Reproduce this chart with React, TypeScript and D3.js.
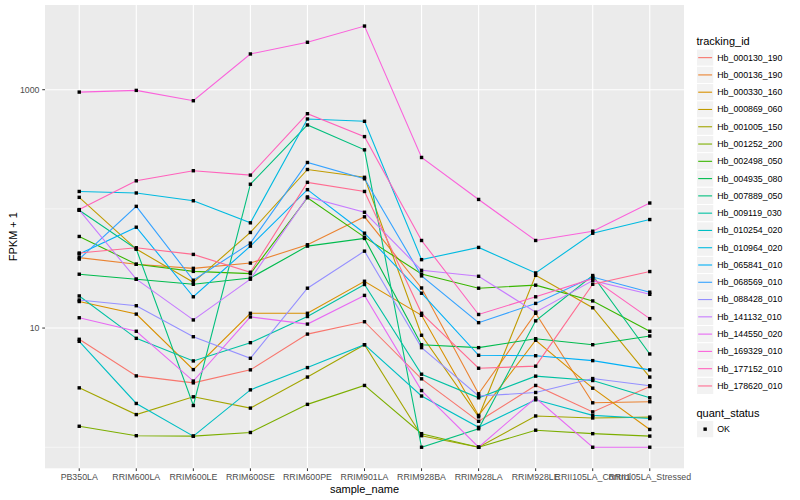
import * as d3 from "d3";

const categories = ["PB350LA", "RRIM600LA", "RRIM600LE", "RRIM600SE", "RRIM600PE", "RRIM901LA", "RRIM928BA", "RRIM928LA", "RRIM928LE", "RRII105LA_Control", "RRII105LA_Stressed"];

const hb000130_190 = [8.05, 3.97, 3.47, 4.46, 8.9, 11.3, 3.75, 1.65, 3.3, 1.98, 3.23];
const hb000136_190 = [39, 34.3, 31.7, 35.1, 50, 85.8, 21.7, 2.81, 13.3, 2.36, 2.41];
const hb000330_160 = [16.7, 13.1, 4.48, 13.3, 13.3, 24.7, 12.8, 1.85, 7.9, 3.13, 1.41];
const hb000869_060 = [125, 46, 24.2, 63.4, 214, 184, 8.7, 1.8, 27.7, 14.8, 3.88];
const hb001005_150 = [3.15, 1.88, 2.65, 2.13, 3.88, 7.25, 1.25, 1, 1.83, 1.76, 1.79];
const hb001252_200 = [1.5, 1.25, 1.24, 1.33, 2.29, 3.3, 1.3, 1, 1.39, 1.3, 1.24];
const hb002498_050 = [58.7, 34.3, 29.9, 28.6, 124, 57.9, 28.4, 21.6, 22.9, 16.9, 9.4];
const hb004935_080 = [28.3, 25.7, 23.3, 26.3, 48.7, 56.5, 7.25, 6.85, 8.14, 7.25, 8.58];
const hb007889_050 = [97.3, 46, 2.24, 161, 506, 313, 1, 1.43, 11.5, 27.6, 6.06];
const hb009119_030 = [18.6, 8.2, 5.3, 7.54, 12.5, 23.2, 4.1, 2.6, 3.95, 3.63, 2.6];
const hb010254_020 = [7.74, 2.33, 1.24, 3.03, 4.66, 7.25, 2.69, 1.47, 2.5, 1.85, 1.74];
const hb010964_020 = [140, 136, 117, 76.4, 568, 543, 37.5, 47.5, 29, 62.5, 81.4];
const hb065841_010 = [41.8, 70.2, 18.3, 48.7, 145, 62.5, 19.6, 5.91, 5.86, 5.33, 4.46];
const hb068569_010 = [37.9, 105, 25.2, 51.6, 245, 179, 27.4, 11.1, 16.1, 26.8, 20];
const hb088428_010 = [17.2, 15.4, 8.46, 5.58, 21.6, 44.2, 6.85, 2.69, 2.88, 3.77, 3.28];
const hb141132_010 = [97.7, 25.7, 11.7, 25.7, 126, 93.7, 30.5, 27.2, 13.6, 25, 19.2];
const hb144550_020 = [12.2, 9.4, 3.59, 12.4, 10.8, 18.8, 2.99, 1, 2.59, 1, 1];
const hb169329_010 = [955, 987, 808, 1995, 2500, 3420, 270, 120, 54.3, 65, 112];
const hb177152_010 = [98.7, 172, 209, 192, 629, 404, 54.3, 13, 18.3, 26, 12];
const hb178620_010 = [42.6, 47.2, 41.5, 29.4, 167, 140, 13.3, 4.6, 4.79, 23.3, 29.8];

const trackingIds = ["Hb_000130_190", "Hb_000136_190", "Hb_000330_160", "Hb_000869_060", "Hb_001005_150", "Hb_001252_200", "Hb_002498_050", "Hb_004935_080", "Hb_007889_050", "Hb_009119_030", "Hb_010254_020", "Hb_010964_020", "Hb_065841_010", "Hb_068569_010", "Hb_088428_010", "Hb_141132_010", "Hb_144550_020", "Hb_169329_010", "Hb_177152_010", "Hb_178620_010"];
const seriesValues = [hb000130_190, hb000136_190, hb000330_160, hb000869_060, hb001005_150, hb001252_200, hb002498_050, hb004935_080, hb007889_050, hb009119_030, hb010254_020, hb010964_020, hb065841_010, hb068569_010, hb088428_010, hb141132_010, hb144550_020, hb169329_010, hb177152_010, hb178620_010];

const yBreaks = [10, 1000];
const yMinor = [1, 100];

// ggplot hue palette, 20 levels
const palette = ["#F8766D", "#EA8331", "#D89000", "#C09B00", "#A3A500", "#7CAE00", "#39B600", "#00BB4E", "#00BF7D", "#00C1A3", "#00BFC4", "#00BAE0", "#00B0F6", "#35A2FF", "#9590FF", "#C77CFF", "#E76BF3", "#FA62DB", "#FF62BC", "#FF6C91"];

const W = 800, H = 500;
const panel = { left: 45, right: 684, top: 5, bottom: 468.3 };
const font = "'Liberation Sans', Arial, Helvetica, sans-serif";

export default function App() {
    const x = d3.scalePoint<string>()
        .domain(categories)
        .range([panel.left, panel.right])
        .padding(0.6);

    const all = seriesValues.flat();
    const lo = Math.log10(d3.min(all)!), hi = Math.log10(d3.max(all)!);
    const pad = (hi - lo) * 0.05;
    const y = d3.scaleLog()
        .domain([Math.pow(10, lo - pad), Math.pow(10, hi + pad)])
        .range([panel.bottom, panel.top]);

    const line = d3.line<number>()
        .x((_, i) => x(categories[i])!)
        .y(d => y(d));

    const legendX = 696.5, legendY0 = 49, keyH = 17.28;

    return (
        <div style={{ position: "absolute", left: 0, top: 0 }}>
            <svg width={W} height={H} style={{ display: "block", background: "#fff" }} fontFamily={font}>
                <rect x={panel.left} y={panel.top} width={panel.right - panel.left} height={panel.bottom - panel.top} fill="#EBEBEB" />
                {yMinor.map(v => (
                    <line key={"mn" + v} x1={panel.left} x2={panel.right} y1={y(v)} y2={y(v)} stroke="#fff" strokeWidth={0.55} />
                ))}
                {yBreaks.map(v => (
                    <line key={"mj" + v} x1={panel.left} x2={panel.right} y1={y(v)} y2={y(v)} stroke="#fff" strokeWidth={1.1} />
                ))}
                {categories.map(c => (
                    <line key={"vx" + c} x1={x(c)} x2={x(c)} y1={panel.top} y2={panel.bottom} stroke="#fff" strokeWidth={1.1} />
                ))}

                {seriesValues.map((vals, i) => (
                    <path key={trackingIds[i]} d={line(vals)!} fill="none" stroke={palette[i]} strokeWidth={1.1} />
                ))}
                {seriesValues.map((vals, i) => vals.map((v, j) => (
                    <rect key={i + "-" + j} x={x(categories[j])! - 1.7} y={y(v) - 1.7} width={3.4} height={3.4} fill="#000" />
                )))}

                {yBreaks.map(v => (
                    <g key={"yt" + v}>
                        <line x1={panel.left - 2.75} x2={panel.left} y1={y(v)} y2={y(v)} stroke="#333" strokeWidth={1} />
                        <text x={panel.left - 5.5} y={y(v)} dy="0.33em" textAnchor="end" fontSize={8.8} fill="#4D4D4D">{v}</text>
                    </g>
                ))}
                {categories.map(c => (
                    <g key={"xt" + c}>
                        <line x1={x(c)} x2={x(c)} y1={panel.bottom} y2={panel.bottom + 2.75} stroke="#333" strokeWidth={1} />
                        <text x={x(c)} y={480} textAnchor="middle" fontSize={8.8} fill="#4D4D4D">{c}</text>
                    </g>
                ))}
                <text x={(panel.left + panel.right) / 2} y={493} textAnchor="middle" fontSize={11} fill="#000">sample_name</text>
                <text transform={`translate(16.5, ${(panel.top + panel.bottom) / 2}) rotate(-90)`} textAnchor="middle" fontSize={11} fill="#000">FPKM + 1</text>

                <text x={legendX} y={44.5} fontSize={11} fill="#000">tracking_id</text>
                {trackingIds.map((id, i) => {
                    const ky = legendY0 + i * keyH;
                    return (
                        <g key={"lg" + id}>
                            <rect x={legendX} y={ky} width={keyH} height={keyH} fill="#F2F2F2" stroke="#fff" strokeWidth={1} />
                            <line x1={legendX + 1.7} x2={legendX + keyH - 1.7} y1={ky + keyH / 2} y2={ky + keyH / 2} stroke={palette[i]} strokeWidth={1.1} />
                            <text x={legendX + keyH + 3.5} y={ky + keyH / 2} dy="0.33em" fontSize={8.8} fill="#000">{id}</text>
                        </g>
                    );
                })}

                <text x={legendX} y={416.5} fontSize={11} fill="#000">quant_status</text>
                <rect x={legendX} y={420.5} width={keyH} height={keyH} fill="#F2F2F2" stroke="#fff" strokeWidth={1} />
                <rect x={legendX + keyH / 2 - 1.7} y={420.5 + keyH / 2 - 1.7} width={3.4} height={3.4} fill="#000" />
                <text x={legendX + keyH + 3.5} y={420.5 + keyH / 2} dy="0.33em" fontSize={8.8} fill="#000">OK</text>
            </svg>
        </div>
    );
}
